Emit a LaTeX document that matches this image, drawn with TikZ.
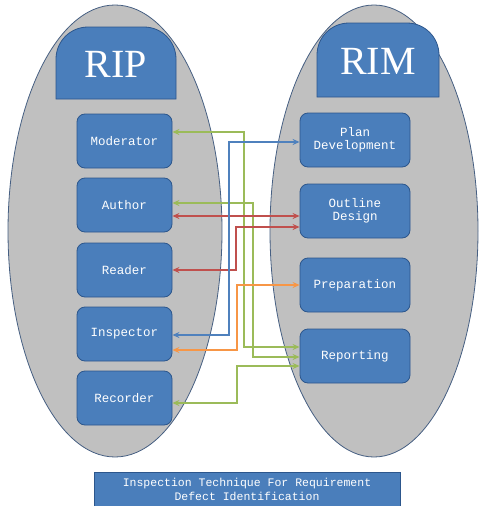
\documentclass[tikz,border=0pt]{standalone}
\usepackage{fontspec}
\usepackage{tikz}
\usetikzlibrary{arrows.meta}
\setmainfont{Liberation Serif}
\setmonofont{Liberation Mono}

\definecolor{ovalgrey}{RGB}{192,192,192}
\definecolor{ovalline}{RGB}{70,95,130}
\definecolor{boxblue}{RGB}{74,126,187}
\definecolor{boxline}{RGB}{44,86,140}
\definecolor{lgreen}{RGB}{155,187,89}
\definecolor{lred}{RGB}{192,80,77}
\definecolor{lblue}{RGB}{79,129,189}
\definecolor{lorange}{RGB}{247,150,70}

\tikzset{
  role/.style={draw=boxline, fill=boxblue, rounded corners=8pt, line width=0.8pt,
    minimum width=95pt, minimum height=54pt, text=white, align=center,
    font=\ttfamily\fontsize{12.5}{13.5}\selectfont},
  phase/.style={role, minimum width=110pt},
  headtext/.style={text=white, font=\fontsize{40}{40}\selectfont},
  link/.style={<->, >={Stealth[length=7pt,width=6pt]}, line width=1.3pt}
}

\begin{document}
\begin{tikzpicture}[x=1pt,y=-1pt]
\useasboundingbox (0,0) rectangle (479,506);

% the two groups
\draw[fill=ovalgrey, draw=ovalline, line width=0.8pt] (115,231) ellipse (107 and 226);
\draw[fill=ovalgrey, draw=ovalline, line width=0.8pt] (374,231) ellipse (104 and 226);

% headers
\draw[fill=boxblue, draw=boxline, line width=0.8pt] (56,99) [rounded corners=32pt] -- (56,27) -- (176,27) [sharp corners] -- (176,99) -- cycle;
\node[headtext] (rip) at (116,64) {RIP};
\draw[fill=boxblue, draw=boxline, line width=0.8pt] (317,97) [rounded corners=32pt] -- (317,23) -- (439,23) [sharp corners] -- (439,97) -- cycle;
\node[headtext] (rim) at (378,61) {RIM};

% roles
\node[role] (mod) at (124.5,141) {Moderator};
\node[role] (auth) at (124.5,205) {Author};
\node[role] (read) at (124.5,270) {Reader};
\node[role] (insp) at (124.5,334) {Inspector};
\node[role] (rec) at (124.5,398) {Recorder};

% phases
\node[phase] (plan) at (355,140) {Plan\\Development};
\node[phase] (outl) at (355,211) {Outline\\Design};
\node[phase] (prep) at (355,285) {Preparation};
\node[phase] (rep) at (355,356) {Reporting};

% links
\draw[link, lgreen] ([yshift=9pt]mod.east) -| (244,347) -- ([yshift=9pt]rep.west);
\draw[link, lgreen] ([yshift=2pt]auth.east) -| (253,357) -- ([yshift=-1pt]rep.west);
\draw[link, lred] ([yshift=-11pt]auth.east) -- ([yshift=-5pt]outl.west);
\draw[link, lred] ([yshift=-16pt]outl.west) -| (236,270) -- (read.east);
\draw[link, lblue] ([yshift=-2pt]plan.west) -| (229,335) -- ([yshift=-1pt]insp.east);
\draw[link, lorange] (prep.west) -| (237,350) -- ([yshift=-16pt]insp.east);
\draw[link, lgreen] ([yshift=-5pt]rec.east) -| (237,366) -- ([yshift=-10pt]rep.west);

% caption
\node[draw=boxline, fill=boxblue, line width=0.8pt, minimum width=306pt, minimum height=34pt,
  text=white, align=center, font=\ttfamily\fontsize{11.5}{14}\selectfont] (cap) at (247,489)
  {Inspection Technique For Requirement\\Defect Identification};

\end{tikzpicture}
\end{document}
